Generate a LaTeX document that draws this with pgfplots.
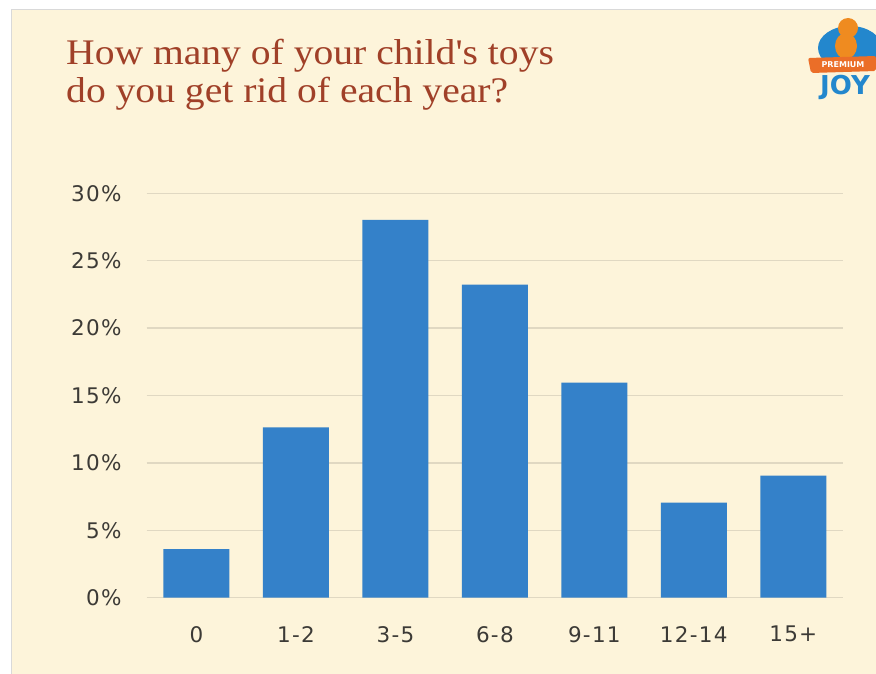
\documentclass[border=0pt]{standalone}
\usepackage{pgfplots}
\pgfplotsset{compat=1.18}
\usepackage{fontspec}
\setmainfont{DejaVu Sans}
\newfontfamily\titlefont[FakeStretch=1.1]{Liberation Serif}
\newfontfamily\tickfont[LetterSpace=6]{DejaVu Sans}
\definecolor{bg}{RGB}{253,244,218}
\definecolor{barblue}{RGB}{52,129,201}
\definecolor{titlered}{RGB}{160,64,40}
\definecolor{gridc}{RGB}{224,216,194}
\definecolor{tickc}{RGB}{60,58,54}
\definecolor{logoblue}{RGB}{35,135,205}
\definecolor{logoorange}{RGB}{235,110,40}
\begin{document}
\begin{tikzpicture}[x=1bp,y=1bp]
\path[use as bounding box] (0,0) rectangle (876,-674);
\fill[white] (0,0) rectangle (876,-674);
\fill[bg] (11,-10) rectangle (876,-674);
\draw[gray!30, line width=1bp] (11,-674) -- (11,-10) -- (876,-10);
% title
\node[anchor=base west, inner sep=0pt, text=titlered, font={\titlefont\fontsize{36bp}{40bp}\selectfont}] at (66,-65) {How many of your child's toys};
\node[anchor=base west, inner sep=0pt, text=titlered, font={\titlefont\fontsize{36bp}{40bp}\selectfont}] at (66,-103) {do you get rid of each year?};
% logo (approximate)
\begin{scope}
\clip (780,-10) rectangle (876,-120);
\fill[logoblue] (850,-48) ellipse (32 and 22);
\fill[logoorange!80!yellow] (846,-46) ellipse (11 and 13);
\fill[logoorange!80!yellow] (848,-28) circle (10);
\fill[logoorange, rounded corners=2] (808,-58) -- (876,-56) -- (876,-71) -- (811,-73) -- cycle;
\node[text=white, font={\bfseries\fontsize{8bp}{8bp}\selectfont}] at (843,-65) {PREMIUM};
\node[text=logoblue, draw=none, font={\bfseries\fontsize{26bp}{26bp}\selectfont}] at (845,-87) {JOY};
\end{scope}
\begin{axis}[
  at={(146.7bp,-597.7bp)}, anchor=south west,
  scale only axis, width=696.3bp, height=404.4bp,
  xmin=-0.5, xmax=6.5, ymin=0, ymax=30,
  axis line style={draw=none},
  tick style={draw=none},
  ymajorgrids, major grid style={gridc, line width=1.3bp},
  ytick={0,5,10,15,20,25,30},
  yticklabels={0\%,5\%,10\%,15\%,20\%,25\%,30\%},
  xtick={0,1,2,3,4,5,6},
  xticklabels={0,1-2,3-5,6-8,9-11,12-14,15+},
  yticklabel style={anchor=east, inner sep=0pt, xshift=-25bp, font={\tickfont\fontsize{21.5bp}{22bp}\selectfont}, text=tickc},
  xticklabel style={anchor=north, inner sep=0pt, yshift=-24bp, font={\tickfont\fontsize{21.5bp}{22bp}\selectfont}, text=tickc},
  ybar, bar width=66bp,
  clip=false,
]
\addplot[fill=barblue, draw=none, bar shift=0pt] coordinates {(0,3.61) (1,12.64) (2,28.02) (3,23.22) (4,15.95) (5,7.05) (6,9.05)};
\end{axis}
\end{tikzpicture}
\end{document}
